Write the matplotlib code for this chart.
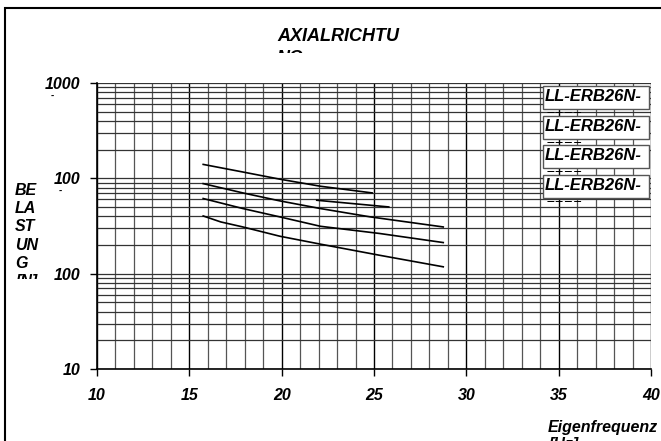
import matplotlib
matplotlib.use("Agg")
import matplotlib.pyplot as plt
from matplotlib.patches import Rectangle
import numpy as np

plt.rcParams['font.family'] = ['Liberation Sans', 'DejaVu Sans']
plt.rcParams['font.weight'] = 'bold'
plt.rcParams['font.style'] = 'italic'

# data (Eigenfrequenz [Hz], Belastung [N])
freq_a = [15.75, 17.9, 19.9, 22.1, 24.9]
load_a = [1400, 1165, 980, 826, 703]
freq_b = [15.75, 17.9, 19.9, 22.1, 24.8, 28.75]
load_b = [880, 703, 580, 482, 394, 309]
freq_c = [15.75, 17.9, 19.9, 22.1, 25.3, 28.75]
load_c = [614, 482, 394, 314, 264, 212]
freq_d = [15.75, 16.7, 17.9, 19.9, 22.1, 25.3, 28.75]
load_d = [403, 349, 309, 247, 204, 156, 118]
freq_e = [21.9, 25.8]
load_e = [589, 501]

x_ticks = [10, 15, 20, 25, 30, 35, 40]
y_ticks = [10, 100, 1000, 10000]
y_tick_labels = ['10', '100', '100', '1000']
legend_labels = ['LL-ERB26N-\n5555', 'LL-ERB26N-\n5555', 'LL-ERB26N-\n5555', 'LL-ERB26N-\n5555']

W, H = 661, 441
def fx(px):
    return px / W
def fy(py):
    return 1 - py / H

fig = plt.figure(figsize=(W / 100, H / 100), dpi=100)
ax = fig.add_axes([fx(97), fy(369), fx(651) - fx(97), fy(83) - fy(369)])
ax.set_yscale('log')
ax.set_xlim(10, 40)
ax.set_ylim(10, 10000)

# grid
for v in range(10, 41):
    if v % 5 == 0:
        ax.axvline(v, color='black', lw=1.0, zorder=1)
    else:
        ax.axvline(v, color='#555555', lw=0.9, zorder=1)
for dec in [10, 100, 1000]:
    for m in range(1, 10):
        ax.axhline(dec * m, color='#333333', lw=0.9, zorder=1)
ax.axhline(10000, color='#333333', lw=0.9, zorder=1)

for xs, ys in [(freq_a, load_a), (freq_b, load_b), (freq_c, load_c),
               (freq_d, load_d), (freq_e, load_e)]:
    ax.plot(xs, ys, color='black', lw=1.2, zorder=3)

ax.set_xticks(x_ticks)
ax.set_xticklabels([str(t) for t in x_ticks])
ax.set_yticks(y_ticks)
ax.set_yticklabels(y_tick_labels)
ax.minorticks_off()
ax.tick_params(axis='both', labelsize=11.5, length=5, width=1, color='black')
ax.tick_params(axis='x', pad=9)
ax.tick_params(axis='y', pad=7)
for lbl in ax.get_xticklabels() + ax.get_yticklabels():
    lbl.set_fontweight('bold')
    lbl.set_fontstyle('italic')
for s in ['top', 'right']:
    ax.spines[s].set_visible(False)
ax.spines['left'].set_linewidth(1.2)
ax.spines['bottom'].set_linewidth(1.2)

# small dashes under the upper tick labels
fig.text(fx(52), fy(96), '-', fontsize=7, ha='center', va='center')
fig.text(fx(60), fy(191), '-', fontsize=7, ha='center', va='center')

# outer frame
fig.patches.append(Rectangle((fx(5), fy(445)), 1, fy(8) - fy(445),
                             transform=fig.transFigure, fill=False,
                             edgecolor='black', lw=1.5))

# clipped title
clip_t = Rectangle((0, fy(53)), 1, fy(15) - fy(53), transform=fig.transFigure,
                   fill=False, lw=0, visible=False)
fig.patches.append(clip_t)
t = fig.text(fx(277), fy(28), 'AXIALRICHTU\nNG', fontsize=13, ha='left', va='top',
             linespacing=1.4)
t.set_clip_path(clip_t)

# clipped y label
clip_y = Rectangle((0, fy(279)), fx(45), fy(170) - fy(279), transform=fig.transFigure,
                   fill=False, lw=0, visible=False)
fig.patches.append(clip_y)
yl = fig.text(fx(15), fy(183), 'BE\nLA\nST\nUN\nG\n[N]', fontsize=11.5, ha='left',
              va='top', linespacing=1.27)
yl.set_clip_path(clip_y)

# x label (cut off by the figure edge, as in the original)
fig.text(fx(548), fy(420), 'Eigenfrequenz\n[Hz]', fontsize=11.5, ha='left', va='top',
         linespacing=1.15)

# legend boxes with cut off second line
box_tops = [86, 116, 145, 175]
for top, lab in zip(box_tops, legend_labels):
    r = Rectangle((fx(543), fy(top + 23)), fx(649) - fx(543), fy(top) - fy(top + 23),
                  transform=fig.transFigure, facecolor='white', edgecolor='#555555',
                  lw=1.0, zorder=5)
    fig.patches.append(r)
    clip_l = Rectangle((fx(540), fy(top + 27)), fx(652) - fx(540), fy(top) - fy(top + 27),
                       transform=fig.transFigure, fill=False, lw=0, visible=False)
    fig.patches.append(clip_l)
    tx = fig.text(fx(545), fy(top + 3), lab, fontsize=12, ha='left', va='top',
                  linespacing=1.65, zorder=6)
    tx.set_clip_path(clip_l)

fig.savefig('out.png', dpi=100)
